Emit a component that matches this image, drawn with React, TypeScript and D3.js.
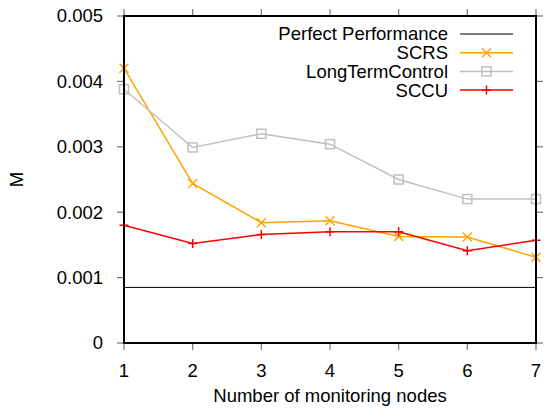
import React, { useEffect, useRef } from 'react';
import * as d3 from 'd3';

const nodes = [1, 2, 3, 4, 5, 6, 7];
const perfect = 0.00085;
const scrs = [0.0042, 0.00244, 0.00184, 0.00187, 0.00163, 0.00162, 0.00131];
const longTerm = [0.00388, 0.00299, 0.0032, 0.00304, 0.0025, 0.0022, 0.0022];
const sccu = [0.0018, 0.00152, 0.00166, 0.0017, 0.0017, 0.00141, 0.00157];
const yTicks = [0, 0.001, 0.002, 0.003, 0.004, 0.005];

const seriesList = [
  { name: 'SCRS', values: scrs, color: '#ffa500', marker: 'x' },
  { name: 'LongTermControl', values: longTerm, color: '#c0c0c0', marker: 'square' },
  { name: 'SCCU', values: sccu, color: '#ff0000', marker: 'plus' },
];

function drawMarker(g: any, type: string, x: number, y: number, color: string) {
  const s = 4.5;
  if (type === 'x') {
    g.append('path')
      .attr('d', `M${x - s},${y - s}L${x + s},${y + s}M${x - s},${y + s}L${x + s},${y - s}`)
      .attr('stroke', color).attr('stroke-width', 1.5).attr('fill', 'none');
  } else if (type === 'square') {
    g.append('rect')
      .attr('x', x - 4.5).attr('y', y - 4.5).attr('width', 9).attr('height', 9)
      .attr('stroke', color).attr('stroke-width', 1.5).attr('fill', 'none');
  } else {
    g.append('path')
      .attr('d', `M${x - s},${y}L${x + s},${y}M${x},${y - s}L${x},${y + s}`)
      .attr('stroke', color).attr('stroke-width', 1.5).attr('fill', 'none');
  }
}

function Chart() {
  const svgRef = useRef<SVGSVGElement>(null);

  useEffect(() => {
    const svg = d3.select(svgRef.current);
    svg.selectAll('*').remove();

    const width = 544;
    const height = 411;
    const left = 124, right = 536, top = 16, bottom = 343;
    const font = 'Liberation Sans, Arial, sans-serif';
    const fs = '18.5px';

    svg.attr('width', width).attr('height', height)
      .style('font-family', font);

    const x = d3.scaleLinear().domain([1, 7]).range([left, right]);
    const y = d3.scaleLinear().domain([0, 0.005]).range([bottom, top]);

    // ticks (outward, mirrored)
    const tickG = svg.append('g').attr('stroke', '#777').attr('stroke-width', 1.2);
    yTicks.forEach((t) => {
      tickG.append('line').attr('x1', left - 7).attr('x2', left).attr('y1', y(t)).attr('y2', y(t));
      tickG.append('line').attr('x1', right).attr('x2', right + 7).attr('y1', y(t)).attr('y2', y(t));
    });
    nodes.forEach((n) => {
      tickG.append('line').attr('x1', x(n)).attr('x2', x(n)).attr('y1', bottom).attr('y2', bottom + 7);
      tickG.append('line').attr('x1', x(n)).attr('x2', x(n)).attr('y1', top - 7).attr('y2', top);
    });

    // tick labels
    svg.append('g').selectAll('text').data(yTicks).enter().append('text')
      .attr('x', 103).attr('y', (d) => y(d)).attr('dy', '0.35em')
      .attr('text-anchor', 'end').style('font-size', fs)
      .text((d) => (d === 0 ? '0' : d3.format('.3f')(d)));
    svg.append('g').selectAll('text').data(nodes).enter().append('text')
      .attr('x', (d) => x(d)).attr('y', 377)
      .attr('text-anchor', 'middle').style('font-size', fs)
      .text((d) => d);

    // axis titles
    svg.append('text').attr('x', (left + right) / 2).attr('y', 402)
      .attr('text-anchor', 'middle').style('font-size', fs)
      .text('Number of monitoring nodes');
    svg.append('text')
      .attr('transform', `translate(17,${(top + bottom) / 2}) rotate(-90)`)
      .attr('dy', '0.35em').attr('text-anchor', 'middle').style('font-size', fs)
      .text('M');

    // perfect performance line
    svg.append('line')
      .attr('x1', left).attr('x2', right).attr('y1', y(perfect)).attr('y2', y(perfect))
      .attr('stroke', '#000').attr('stroke-width', 1);

    const line = d3.line<number>().x((d, i) => x(nodes[i])).y((d) => y(d));
    seriesList.forEach((s) => {
      svg.append('path').datum(s.values).attr('d', line)
        .attr('fill', 'none').attr('stroke', s.color).attr('stroke-width', 1.5);
      const mg = svg.append('g');
      s.values.forEach((v, i) => drawMarker(mg, s.marker, x(nodes[i]), y(v), s.color));
    });

    // legend
    const legend = [
      { name: 'Perfect Performance', color: '#000', marker: 'none' },
      ...seriesList,
    ];
    legend.forEach((l, i) => {
      const ly = 34 + i * 18.7;
      svg.append('text').attr('x', 448).attr('y', ly).attr('dy', '0.35em')
        .attr('text-anchor', 'end').style('font-size', fs).text(l.name);
      svg.append('line').attr('x1', 460).attr('x2', 513).attr('y1', ly).attr('y2', ly)
        .attr('stroke', l.color).attr('stroke-width', l.marker === 'none' ? 1 : 1.5);
      if (l.marker !== 'none') drawMarker(svg, l.marker, 486.5, ly, l.color);
    });

    // border
    svg.append('rect')
      .attr('x', left).attr('y', top).attr('width', right - left).attr('height', bottom - top)
      .attr('fill', 'none').attr('stroke', '#000').attr('stroke-width', 2);
  }, []);

  return <svg ref={svgRef}></svg>;
}

export default function App() {
  return (
    <div style={{ position: 'absolute', left: 0, top: 0 }}>
      <Chart />
    </div>
  );
}
